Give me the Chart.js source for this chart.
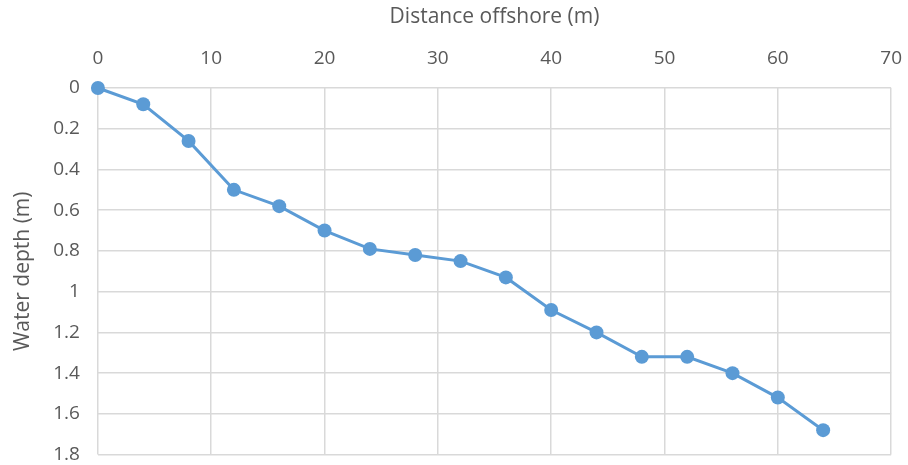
<!DOCTYPE html>
<html>
<head>
<meta charset="utf-8">
<script src="https://cdn.jsdelivr.net/npm/chart.js@4/dist/chart.umd.min.js"></script>
<style>
  html, body { margin: 0; padding: 0; background: #fff; overflow: hidden; }
  #wrap { width: 908px; height: 465px; overflow: hidden; }
  #box { position: relative; width: 920px; height: 484px; }
</style>
</head>
<body>
<div id="wrap"><div id="box"><canvas id="depthChart"></canvas></div></div>
<script>
// distance offshore (m) and measured water depth (m)
const distances = [0, 4, 8, 12, 16, 20, 24, 28, 32, 36, 40, 44, 48, 52, 56, 60, 64];
const depths = [0, 0.08, 0.26, 0.5, 0.58, 0.7, 0.79, 0.82, 0.85, 0.93, 1.09, 1.2, 1.32, 1.32, 1.4, 1.52, 1.68];

const xTitle = 'Distance offshore (m)';
const yTitle = 'Water depth (m)';

const textColor = '#595959';
const gridColor = '#d9d9d9';
const lineColor = '#5b9bd5';
const fontFamily = "'Open Sans', 'Liberation Sans', sans-serif";

const points = distances.map((d, i) => ({ x: d, y: depths[i] }));

const ctx = document.getElementById('depthChart').getContext('2d');
new Chart(ctx, {
  type: 'line',
  data: {
    datasets: [{
      label: 'Depth',
      data: points,
      borderColor: lineColor,
      backgroundColor: lineColor,
      borderWidth: 3,
      pointRadius: 7,
      pointHoverRadius: 7,
      pointBorderWidth: 0,
      tension: 0,
      clip: false
    }]
  },
  options: {
    responsive: true,
    maintainAspectRatio: false,
    animation: false,
    layout: { autoPadding: false, padding: { left: 10, right: 0, top: 4, bottom: 0 } },
    plugins: {
      legend: { display: false },
      tooltip: { enabled: false }
    },
    scales: {
      x: {
        type: 'linear',
        position: 'top',
        min: 0,
        max: 70,
        ticks: { stepSize: 10, color: textColor, font: { family: fontFamily, size: 19 }, padding: 18 },
        grid: { color: gridColor, lineWidth: 1.5, drawTicks: false },
        border: { display: false },
        title: { display: true, text: xTitle, color: textColor, font: { family: fontFamily, size: 21 }, padding: { top: 0, bottom: 0 } }
      },
      y: {
        reverse: true,
        min: 0,
        max: 1.8,
        ticks: {
          stepSize: 0.2,
          color: textColor,
          font: { family: fontFamily, size: 19 },
          padding: 18,
          callback: v => String(Math.round(v * 10) / 10)
        },
        grid: { color: gridColor, lineWidth: 1.5, drawTicks: false },
        border: { display: false },
        title: { display: true, text: yTitle, color: textColor, font: { family: fontFamily, size: 21 }, padding: { top: 0, bottom: 0 } }
      }
    }
  }
});
</script>
</body>
</html>
